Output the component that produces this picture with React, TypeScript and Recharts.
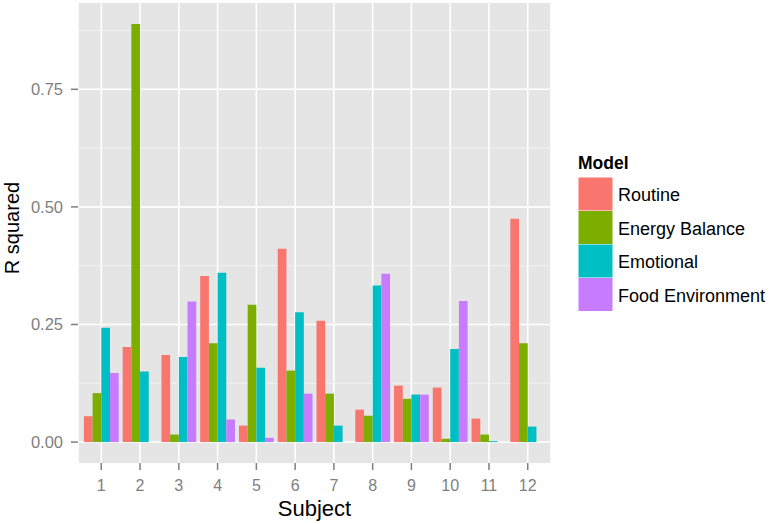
import { BarChart, Bar, XAxis, YAxis, CartesianGrid } from "recharts";

const SUBJECTS = ["1", "2", "3", "4", "5", "6", "7", "8", "9", "10", "11", "12"];

const ROUTINE = [0.055, 0.202, 0.185, 0.353, 0.035, 0.411, 0.258, 0.069, 0.12, 0.116, 0.05, 0.475];
const ENERGY_BALANCE = [0.104, 0.889, 0.016, 0.21, 0.292, 0.152, 0.103, 0.056, 0.092, 0.007, 0.016, 0.21];
const EMOTIONAL = [0.243, 0.15, 0.181, 0.36, 0.158, 0.276, 0.035, 0.333, 0.101, 0.198, 0.002, 0.033];
const FOOD_ENVIRONMENT = [0.147, null, 0.299, 0.048, 0.009, 0.103, null, 0.358, 0.101, 0.3, null, null];

const Y_TICKS = [0, 0.25, 0.5, 0.75];
const Y_MINOR = [0.125, 0.375, 0.625, 0.875];

const SERIES = [
  { key: "routine", name: "Routine", color: "#F8766D", values: ROUTINE },
  { key: "energy", name: "Energy Balance", color: "#7CAE00", values: ENERGY_BALANCE },
  { key: "emotional", name: "Emotional", color: "#00BFC4", values: EMOTIONAL },
  { key: "food", name: "Food Environment", color: "#C77CFF", values: FOOD_ENVIRONMENT },
];

const data = SUBJECTS.map((subject, i) => {
  const row: Record<string, string | number | null> = { subject };
  SERIES.forEach((s) => (row[s.key] = s.values[i]));
  return row;
});

const FONT = "'Liberation Sans', Arial, Helvetica, sans-serif";
const COLOR_TEXT = "#7F7F7F";

function YTitle() {
  return (
    <text
      transform={`translate(19, 228) rotate(-90)`}
      textAnchor="middle"
      fontSize={20}
      fontFamily={FONT}
      fill="#000"
    >
      R squared
    </text>
  );
}

function XTitle({ viewBox }: any) {
  const { x, y, width } = viewBox;
  return (
    <text x={x + width / 2} y={y + 53} textAnchor="middle" fontSize={22} fontFamily={FONT} fill="#000">
      Subject
    </text>
  );
}

function ModelLegend() {
  return (
    <svg width={773} height={524} style={{ position: "absolute", left: 0, top: 0, pointerEvents: "none" }}>
      <text x={578} y={169} fontSize={17.5} fontWeight="bold" fontFamily={FONT} fill="#000">
        Model
      </text>
      {SERIES.map((s, i) => (
        <g key={s.key}>
          <rect x={578.5} y={177.5 + i * 33.5} width={34} height={33} fill={s.color} />
          <text x={618} y={201 + i * 33.5} fontSize={18} fontFamily={FONT} fill="#000">
            {s.name}
          </text>
        </g>
      ))}
    </svg>
  );
}

export default function App() {
  return (
    <div style={{ position: "absolute", left: 0, top: 0, width: 773, height: 524, background: "#fff", fontFamily: FONT }}>
      <BarChart
        width={773}
        height={524}
        data={data}
        margin={{ top: 3, right: 222, left: 0, bottom: 0 }}
        barGap={0}
        barSize={8.7}
      >
        <CartesianGrid
          fill="#E5E5E5"
          fillOpacity={1}
          stroke="#F2F2F2"
          strokeWidth={1}
          vertical={false}
          horizontalValues={Y_MINOR}
        />
        <CartesianGrid stroke="#FFFFFF" strokeWidth={1.6} horizontalValues={Y_TICKS} />
        <XAxis
          dataKey="subject"
          height={61}
          interval={0}
          axisLine={false}
          padding={{ left: 3.9, right: 3.9 }}
          tickSize={7}
          tickMargin={10}
          tickLine={{ stroke: COLOR_TEXT, strokeWidth: 1.5 }}
          tick={{ fill: COLOR_TEXT, fontSize: 16, fontFamily: FONT }}
          label={<XTitle />}
        />
        <YAxis
          type="number"
          width={78}
          domain={[-0.0445, 0.9335]}
          ticks={Y_TICKS}
          allowDataOverflow
          axisLine={false}
          tickSize={7}
          tickMargin={8}
          tickLine={{ stroke: COLOR_TEXT, strokeWidth: 1.5 }}
          tick={{ fill: COLOR_TEXT, fontSize: 16.5, fontFamily: FONT }}
          tickFormatter={(v: number) => v.toFixed(2)}
          label={<YTitle />}
        />
        {SERIES.map((s) => (
          <Bar key={s.key} dataKey={s.key} name={s.name} fill={s.color} isAnimationActive={false} />
        ))}
      </BarChart>
      <ModelLegend />
    </div>
  );
}
